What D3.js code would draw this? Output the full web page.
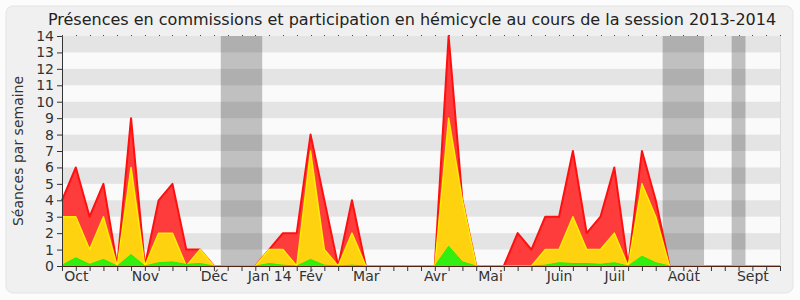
<!DOCTYPE html>
<html>
<head>
<meta charset="utf-8">
<script src="https://cdn.jsdelivr.net/npm/d3@7"></script>
<style>
  body { margin: 0; background: #fcfcfc; }
  svg { display: block; font-family: "DejaVu Sans", Verdana, sans-serif; }
</style>
</head>
<body>
<svg id="chart" width="800" height="300"></svg>
<script>
// one value per week, session 2013-2014 (week 0 = end of Sept)
const presences = [4, 6, 3, 5, 0, 9, 0, 4, 5, 1, 1, 0, 0, 0, 0, 1, 2, 2, 8, 4, 0, 4, 0, 0, 0, 0, 0, 0, 14, 4, 0, 0, 0, 2, 1, 3, 3, 7, 2, 3, 6, 0, 7, 4, 0, 0, 0, 0, 0, 0, 0, 0, 0];
const commissions = [3, 3, 1, 3, 0, 6, 0, 2, 2, 0, 1, 0, 0, 0, 0, 1, 1, 0, 7, 1, 0, 2, 0, 0, 0, 0, 0, 0, 9, 4, 0, 0, 0, 0, 0, 1, 1, 3, 1, 1, 2, 0, 5, 3, 0, 0, 0, 0, 0, 0, 0, 0, 0];
const hemicycle = [0.05, 0.5, 0.1, 0.4, 0, 0.7, 0, 0.2, 0.25, 0.1, 0.15, 0, 0, 0, 0, 0.15, 0.05, 0, 0.4, 0.05, 0, 0.05, 0, 0, 0, 0, 0, 0, 1.2, 0.25, 0, 0, 0, 0, 0, 0.05, 0.2, 0.15, 0.15, 0.1, 0.2, 0, 0.6, 0.2, 0, 0, 0, 0, 0, 0, 0, 0, 0];

const monthLabels = ['Oct', 'Nov', 'Déc', 'Jan 14', 'Fév', 'Mar', 'Avr', 'Mai', 'Juin', 'Juil', 'Août', 'Sept'];
const monthWeeks = [1, 6, 11, 15, 18, 22, 27, 31, 36, 40, 45, 50];

// holidays, as [first week, last week]
const vacances = [[12, 14], [44, 46], [49, 49]];

const yTicks = d3.range(0, 15);

const svg = d3.select('#chart');
const margin = { left: 62, right: 20, top: 36, bottom: 34 };
const W = 800, H = 300;

const x = d3.scaleLinear().domain([0, presences.length - 1]).range([margin.left, W - margin.right]);
const y = d3.scaleLinear().domain([0, 14]).range([H - margin.bottom, margin.top]);
const step = x(1) - x(0);

// outer panel
svg.append('rect')
  .attr('x', 6).attr('y', 6).attr('width', 787).attr('height', 287).attr('rx', 7)
  .attr('fill', '#f0f0f0').attr('stroke', '#e4e4e4');

svg.append('text')
  .attr('x', 412).attr('y', 25)
  .attr('text-anchor', 'middle')
  .attr('font-size', 16).attr('fill', '#222')
  .text('Présences en commissions et participation en hémicycle au cours de la session 2013-2014');

const plot = svg.append('g');

plot.append('rect')
  .attr('x', x(0)).attr('y', y(14))
  .attr('width', x.range()[1] - x(0)).attr('height', y(0) - y(14))
  .attr('fill', '#fafafa');

plot.selectAll('rect.vac')
  .data(vacances)
  .enter().append('rect')
  .attr('class', 'vac')
  .attr('x', d => x(d[0]) - step / 2)
  .attr('width', d => x(d[1]) - x(d[0]) + step)
  .attr('y', y(14)).attr('height', y(0) - y(14))
  .attr('fill', '#c0c0c0');

plot.selectAll('rect.stripe')
  .data(yTicks.filter(d => d % 2 === 1 && d < 14))
  .enter().append('rect')
  .attr('class', 'stripe')
  .attr('x', x(0)).attr('width', x.range()[1] - x(0))
  .attr('y', d => y(d + 1)).attr('height', d => y(d) - y(d + 1))
  .attr('fill', 'rgba(0,0,0,0.085)');

// right edge of the plot
plot.append('line')
  .attr('x1', x.range()[1] + 0.5).attr('x2', x.range()[1] + 0.5)
  .attr('y1', y(14)).attr('y2', y(0))
  .attr('stroke', '#dcdcdc');

// dotted marks along the top
plot.selectAll('rect.dot')
  .data(d3.range(presences.length))
  .enter().append('rect')
  .attr('class', 'dot')
  .attr('x', d => Math.round(x(d))).attr('y', y(14) - 1)
  .attr('width', 1).attr('height', 1)
  .attr('fill', '#444');

const series = [
  { values: presences, fill: '#ff3c3c', stroke: '#ff1010', width: 2 },
  { values: commissions, fill: '#ffd20f', stroke: '#ffee00', width: 1.5 },
  { values: hemicycle, fill: '#33ee11', stroke: '#22f000', width: 1 },
];

series.forEach(s => {
  const area = d3.area().x((d, i) => x(i)).y0(y(0)).y1(d => y(d));
  const line = d3.line().x((d, i) => x(i)).y(d => y(d));
  plot.append('path').datum(s.values).attr('d', area).attr('fill', s.fill);
  plot.append('path').datum(s.values).attr('d', line)
    .attr('fill', 'none').attr('stroke', s.stroke).attr('stroke-width', s.width)
    .attr('stroke-linejoin', 'round');
});

// y axis
const yAxis = svg.append('g')
  .attr('transform', `translate(${x(0)},0)`)
  .call(d3.axisLeft(y).tickValues(yTicks).tickFormat(d3.format('d')).tickSize(5).tickPadding(3));
yAxis.select('.domain').attr('stroke', '#333');
yAxis.selectAll('.tick line').attr('stroke', '#333');
yAxis.selectAll('text').attr('font-size', 14).attr('fill', '#333')
  .attr('font-family', '"DejaVu Sans", Verdana, sans-serif');

// x axis: one tick per week
const xAxis = svg.append('g')
  .attr('transform', `translate(0,${y(0)})`)
  .call(d3.axisBottom(x).tickValues(d3.range(presences.length)).tickFormat('').tickSize(5).tickSizeOuter(0));
xAxis.select('.domain').attr('stroke', '#552211');
xAxis.selectAll('.tick line').attr('stroke', '#333');

const mAxis = svg.append('g')
  .attr('transform', `translate(0,${y(0)})`)
  .call(d3.axisBottom(x).tickValues(monthWeeks).tickFormat((d, i) => monthLabels[i]).tickSize(0).tickPadding(5));
mAxis.select('.domain').remove();
mAxis.selectAll('text').attr('font-size', 14).attr('fill', '#333')
  .attr('font-family', '"DejaVu Sans", Verdana, sans-serif');

svg.append('text')
  .attr('transform', `translate(23,${(y(0) + y(14)) / 2}) rotate(-90)`)
  .attr('text-anchor', 'middle')
  .attr('font-size', 14).attr('fill', '#333')
  .text('Séances par semaine');
</script>
</body>
</html>
